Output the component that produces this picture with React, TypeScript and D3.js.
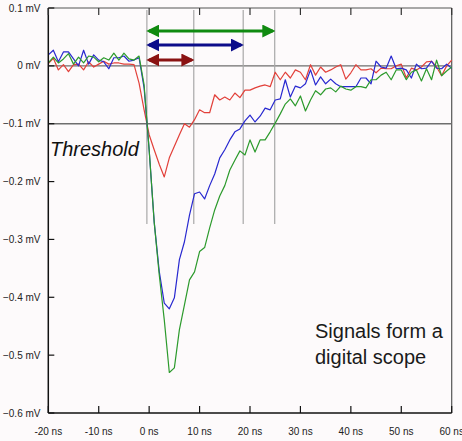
import React from "react";
import * as d3 from "d3";

// Sampling of the scope traces: one sample per nanosecond from -20 ns to 60 ns
const T_START = -20;
const T_STEP = 1;

// Trace voltages in mV
const redTrace = [
  0.004, 0.013, -0.007, 0.002, -0.010, 0.002, 0.003, -0.007, 0.007, -0.002,
  0.003, 0.008, 0.003, 0.005, 0.005, 0.003, 0.003, 0.002, -0.030, -0.076,
  -0.119, -0.145, -0.170, -0.192, -0.159, -0.139, -0.119, -0.100, -0.106, -0.093,
  -0.076, -0.081, -0.081, -0.050, -0.059, -0.054, -0.059, -0.047, -0.055, -0.042,
  -0.042, -0.038, -0.035, -0.033, -0.036, -0.011, -0.024, -0.011, -0.021, -0.007,
  -0.011, -0.024, 0.002, -0.016, -0.002, -0.011, -0.007, -0.002, 0.002, -0.023,
  -0.012, 0.002, -0.007, -0.007, -0.005, -0.012, -0.004, -0.005, -0.005, 0.000,
  0.003, -0.021, -0.004, -0.007, -0.002, 0.007, 0.008, -0.002, -0.017, 0.000,
  0.010,
];

const blueTrace = [
  0.019, 0.027, 0.007, 0.024, 0.024, 0.012, 0.000, 0.027, 0.003, 0.019,
  0.010, 0.007, -0.005, 0.014, 0.014, 0.017, 0.008, 0.010, 0.014, -0.038,
  -0.145, -0.270, -0.355, -0.410, -0.420, -0.401, -0.335, -0.304, -0.258, -0.221,
  -0.218, -0.230, -0.207, -0.187, -0.159, -0.145, -0.128, -0.114, -0.109, -0.095,
  -0.085, -0.097, -0.087, -0.073, -0.076, -0.059, -0.057, -0.024, -0.054, -0.035,
  -0.038, -0.031, -0.007, -0.033, -0.019, -0.031, -0.023, -0.031, -0.036, -0.036,
  -0.036, -0.036, -0.021, -0.021, -0.031, 0.008, -0.002, -0.004, 0.017, -0.005,
  -0.004, -0.007, -0.021, 0.003, -0.005, -0.004, 0.008, -0.004, -0.005, 0.003,
  -0.004,
];

const greenTrace = [
  0.005, 0.015, 0.005, 0.012, 0.021, 0.003, 0.015, 0.005, 0.017, 0.015,
  0.007, 0.014, 0.010, 0.022, 0.010, 0.022, 0.012, 0.010, 0.017, -0.033,
  -0.145, -0.270, -0.361, -0.439, -0.530, -0.522, -0.456, -0.413, -0.370, -0.356,
  -0.321, -0.314, -0.280, -0.249, -0.225, -0.207, -0.180, -0.163, -0.147, -0.154,
  -0.128, -0.149, -0.128, -0.128, -0.114, -0.099, -0.083, -0.066, -0.057, -0.069,
  -0.052, -0.078, -0.059, -0.043, -0.050, -0.040, -0.038, -0.045, -0.035, -0.040,
  -0.042, -0.036, -0.036, -0.038, -0.024, -0.024, -0.016, -0.011, -0.024, -0.007,
  -0.007, -0.024, -0.011, -0.007, -0.026, -0.005, -0.024, 0.010, -0.017, -0.009,
  -0.002,
];

// Axis ticks
const xTicks = [-20, -10, 0, 10, 20, 30, 40, 50, 60];
const yTicks = [0.1, 0, -0.1, -0.2, -0.3, -0.4, -0.5, -0.6];

// Reference levels (mV)
const baselineLevel = 0;
const thresholdLevel = -0.1;

// Time markers (ns): common start and the end of each time-over-threshold span
const markerStart = -0.45;
const markerEnds = [8.85, 18.65, 24.9];
// Span arrows, drawn from markerStart to each end
const spanEnds = [24.9, 18.65, 8.85];
const spanColors = ["#108a10", "#0c0c8a", "#8a1212"];

const traces = [
  { values: redTrace, color: "#e2403a" },
  { values: blueTrace, color: "#2828d0" },
  { values: greenTrace, color: "#2c9a2c" },
];

const W = 462;
const H = 441;
const FONT = "'Liberation Sans', Arial, sans-serif";

export default function App() {
  const x = d3.scaleLinear().domain([-20, 60]).range([48.3, 451.7]);
  const y = d3.scaleLinear().domain([-0.6, 0.1]).range([413, 8]);
  const [x0, x1] = x.range();
  const [yb, yt] = y.range();

  const line = d3
    .line<number>()
    .x((_, i) => x(T_START + i * T_STEP))
    .y((v) => y(v));

  const arrowRows = [31, 45, 60];
  const markerBottom = 224;

  return (
    <svg
      width={W}
      height={H}
      style={{ position: "fixed", left: 0, top: 0 }}
      fontFamily={FONT}
    >
      <defs>
        {spanColors.map((c, i) => (
          <marker
            key={i}
            id={`head${i}`}
            viewBox="0 0 10 10"
            refX={8}
            refY={5}
            markerUnits="userSpaceOnUse"
            markerWidth={13}
            markerHeight={13}
            orient="auto-start-reverse"
          >
            <path d="M0,0 L10,5 L0,10 Z" fill={c} />
          </marker>
        ))}
      </defs>
      <rect width={W} height={H} fill="#fdfafb" />

      {/* frame */}
      <line x1={x0} x2={x1} y1={yt} y2={yt} stroke="#555" strokeWidth={1.2} />
      <line x1={x1} x2={x1} y1={yt} y2={yb} stroke="#555" strokeWidth={1.2} />

      {/* reference levels */}
      {[baselineLevel, thresholdLevel].map((v) => (
        <line
          key={v}
          x1={x0}
          x2={x1}
          y1={y(v)}
          y2={y(v)}
          stroke="#6e6e6e"
          strokeWidth={1.4}
        />
      ))}

      {/* time markers */}
      {[markerStart, ...markerEnds].map((t) => (
        <line
          key={t}
          x1={x(t)}
          x2={x(t)}
          y1={yt + 2}
          y2={markerBottom}
          stroke="#a8a8a8"
          strokeWidth={1.2}
        />
      ))}

      {/* traces */}
      {traces.map((tr, i) => (
        <path
          key={i}
          d={line(tr.values) ?? ""}
          fill="none"
          stroke={tr.color}
          strokeWidth={1.2}
          strokeLinejoin="round"
        />
      ))}

      {/* span arrows */}
      {spanEnds.map((t, i) => (
        <line
          key={t}
          x1={x(markerStart) + 2}
          x2={x(t) - 2}
          y1={arrowRows[i]}
          y2={arrowRows[i]}
          stroke={spanColors[i]}
          strokeWidth={3}
          markerStart={`url(#head${i})`}
          markerEnd={`url(#head${i})`}
        />
      ))}

      {/* axes */}
      <line x1={x0} x2={x0} y1={yt} y2={yb} stroke="#111" strokeWidth={1.5} />
      <line x1={x0} x2={x1} y1={yb} y2={yb} stroke="#111" strokeWidth={1.5} />

      {xTicks.map((t) => (
        <g key={t}>
          <line x1={x(t)} x2={x(t)} y1={yb} y2={yb - 7} stroke="#111" strokeWidth={1.2} />
          <line x1={x(t)} x2={x(t)} y1={yt} y2={yt + 7} stroke="#333" strokeWidth={1.2} />
          <text
            x={x(t)}
            y={435}
            fontSize={10}
            textAnchor="middle"
            fill="#222"
          >
            {`${t} ns`}
          </text>
        </g>
      ))}

      {yTicks.map((v) => (
        <g key={v}>
          <line x1={x0} x2={x0 + 6} y1={y(v)} y2={y(v)} stroke="#111" strokeWidth={1.2} />
          <text
            x={40.5}
            y={y(v)}
            dy="0.35em"
            fontSize={10}
            textAnchor="end"
            fill="#222"
          >
            {`${d3.format(".1~f")(v)} mV`}
          </text>
        </g>
      ))}

      <text x={50} y={156} fontSize={20} fontStyle="italic" fill="#111">
        Threshold
      </text>
      <text x={315} y={338} fontSize={20} fill="#1a1a1a">
        Signals form a
      </text>
      <text x={315} y={364} fontSize={20} fill="#1a1a1a">
        digital scope
      </text>
    </svg>
  );
}
